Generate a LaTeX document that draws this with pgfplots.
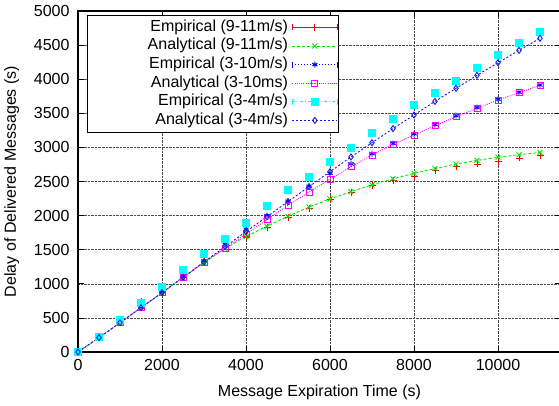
\documentclass[border=0pt]{standalone}
\usepackage{fontspec}
\setmainfont{Liberation Sans}
\usepackage{pgfplots}
\pgfplotsset{compat=1.18}
\definecolor{cgreen}{RGB}{0,235,0}
\definecolor{cred}{RGB}{255,0,0}
\definecolor{cblue}{RGB}{0,0,255}
\definecolor{cmag}{RGB}{255,0,255}
\definecolor{ccyan}{RGB}{0,255,255}
\definecolor{cblue2}{RGB}{20,20,230}
\pgfplotsset{
 errleg/.style={legend image code/.code={
   \draw[mark repeat=2,mark phase=2,##1] plot coordinates {(0bp,0bp) (22.5bp,0bp) (45bp,0bp)};
   \draw[##1,solid] (0bp,-3bp) -- (0bp,3bp) (45bp,-3bp) -- (45bp,3bp);
 }},
 lineleg/.style={legend image code/.code={
   \draw[mark repeat=2,mark phase=2,##1] plot coordinates {(0bp,0bp) (22.5bp,0bp) (45bp,0bp)};
 }},
}
\newcommand{\lt}[1]{\makebox[202bp][r]{#1\hspace{3bp}}}
\newcommand{\fs}{\fontsize{16bp}{18bp}\selectfont}
\begin{document}
\begin{tikzpicture}
\begin{axis}[
 scale only axis, width=483bp, height=341bp,
 xmin=0, xmax=11500, ymin=0, ymax=5000,
 xtick={0,2000,...,10000}, ytick={0,500,...,5000},
 scaled ticks=false,
 /pgf/number format/.cd, 1000 sep={}, assume math mode=true, /pgfplots/.cd,
 tick align=inside, major tick length=6bp, tick style={black, line width=0.8bp},
 xmajorgrids, ymajorgrids,
 grid style={densely dotted, black!70, line width=0.6bp},
 axis line style={line width=1.2bp},
 ticklabel style={font=\fs},
 yticklabel style={xshift=-5bp},
 xticklabel style={yshift=-4bp},
 label style={font=\fs},
 xlabel={Message Expiration Time (s)},
 ylabel={Delay of Delivered Messages (s)},
 xlabel style={at={(axis description cs:0.5,-0.117)}, anchor=center},
 ylabel style={at={(axis description cs:-0.137,0.5)}, anchor=center},
 legend cell align=right, legend plot pos=right,
 legend style={at={(rel axis cs:0,1)}, anchor=north west, xshift=9bp, yshift=-4bp,
   draw=black, line width=0.8bp, inner xsep=0.5bp, inner ysep=3.5bp,
   font=\fs,
   nodes={inner sep=1bp, text height=11.5bp, text depth=3.5bp},
   row sep=1.6bp},
 every axis plot/.append style={line width=0.9bp},
]
\addlegendimage{errleg, cred, solid, mark=+, mark size=3.5bp}
\addlegendentry{\lt{Empirical (9-11m/s)}}
\addlegendimage{lineleg, cgreen, dash pattern=on 3bp off 2bp, mark=x, mark size=3.5bp, mark options={solid}}
\addlegendentry{\lt{Analytical (9-11m/s)}}
\addlegendimage{errleg, cblue, dash pattern=on 1bp off 2bp, mark=asterisk, mark size=3bp, mark options={solid}}
\addlegendentry{\lt{Empirical (3-10m/s)}}
\addlegendimage{lineleg, cmag, dash pattern=on 1bp off 1.2bp, mark=square, mark size=3bp, mark options={solid}}
\addlegendentry{\lt{Analytical (3-10ms)}}
\addlegendimage{errleg, ccyan, dash pattern=on 3bp off 2bp on 1bp off 2bp, mark=square*, mark size=3.5bp, mark options={solid}}
\addlegendentry{\lt{Empirical (3-4m/s)}}
\addlegendimage{lineleg, cblue2, dash pattern=on 2bp off 2bp, mark=diamond, mark size=3bp, mark options={solid}}
\addlegendentry{\lt{Analytical (3-4m/s)}}

% Empirical (9-11m/s)
\addplot[forget plot, cred, only marks, mark=+, mark size=3.5bp] coordinates {
(0,0) (500,230) (1000,470) (1500,740) (2000,930) (2500,1170) (3000,1360) (3500,1560)
(4000,1700) (4500,1830) (5000,1975) (5500,2110) (6000,2235) (6500,2342) (7000,2440)
(7500,2512) (8000,2581) (8500,2655) (9000,2727) (9500,2757) (10000,2796) (10500,2845) (11000,2883)};
% Analytical (9-11m/s)
\addplot[forget plot, cgreen, dash pattern=on 3bp off 2bp, mark=x, mark size=3.5bp, mark options={solid}] coordinates {
(0,0) (500,210) (1000,430) (1500,650) (2000,865) (2500,1090) (3000,1310) (3500,1515)
(4000,1695) (4500,1845) (5000,1990) (5500,2125) (6000,2245) (6500,2350) (7000,2450)
(7500,2540) (8000,2620) (8500,2690) (9000,2755) (9500,2810) (10000,2855) (10500,2893) (11000,2925)};
% Empirical (3-10m/s)
\addplot[forget plot, cblue, only marks, mark=asterisk, mark size=3bp] coordinates {
(0,0) (500,215) (1000,440) (1500,660) (2000,885) (2500,1110) (3000,1340) (3500,1580)
(4000,1800) (4500,2000) (5000,2210) (5500,2430) (6000,2620) (6500,2760) (7000,2910)
(7500,3060) (8000,3200) (8500,3335) (9000,3465) (9500,3585) (10000,3705) (10500,3810) (11000,3915)};
% Analytical (3-10ms)
\addplot[forget plot, cmag, dash pattern=on 1bp off 1.2bp, mark=square, mark size=3bp, mark options={solid}] coordinates {
(0,0) (500,210) (1000,430) (1500,650) (2000,870) (2500,1095) (3000,1315) (3500,1520)
(4000,1730) (4500,1940) (5000,2150) (5500,2345) (6000,2532) (6500,2717) (7000,2889)
(7500,3045) (8000,3182) (8500,3318) (9000,3450) (9500,3573) (10000,3695) (10500,3802) (11000,3910)};
% Empirical (3-4m/s)
\addplot[forget plot, ccyan, only marks, mark=square*, mark size=3.5bp] coordinates {
(0,0) (500,225) (1000,469) (1500,714) (2000,949) (2500,1202) (3000,1437) (3500,1661)
(4000,1896) (4500,2141) (5000,2371) (5500,2570) (6000,2786) (6500,2996) (7000,3216)
(7500,3421) (8000,3622) (8500,3802) (9000,3978) (9500,4169) (10000,4359) (10500,4535) (11000,4697)};
% Analytical (3-4m/s)
\addplot[forget plot, cblue2, dash pattern=on 2bp off 2bp, mark=diamond, mark size=3bp, mark options={solid}] coordinates {
(0,0) (500,210) (1000,430) (1500,650) (2000,870) (2500,1095) (3000,1320) (3500,1545)
(4000,1765) (4500,1984) (5000,2205) (5500,2424) (6000,2644) (6500,2860) (7000,3069)
(7500,3275) (8000,3475) (8500,3675) (9000,3866) (9500,4057) (10000,4242) (10500,4423) (11000,4600)};
\end{axis}
\pgfresetboundingbox
\useasboundingbox ([xshift=-78bp,yshift=-54bp]current axis.south west) rectangle ([xshift=481bp,yshift=11bp]current axis.north west);
\end{tikzpicture}
\end{document}
